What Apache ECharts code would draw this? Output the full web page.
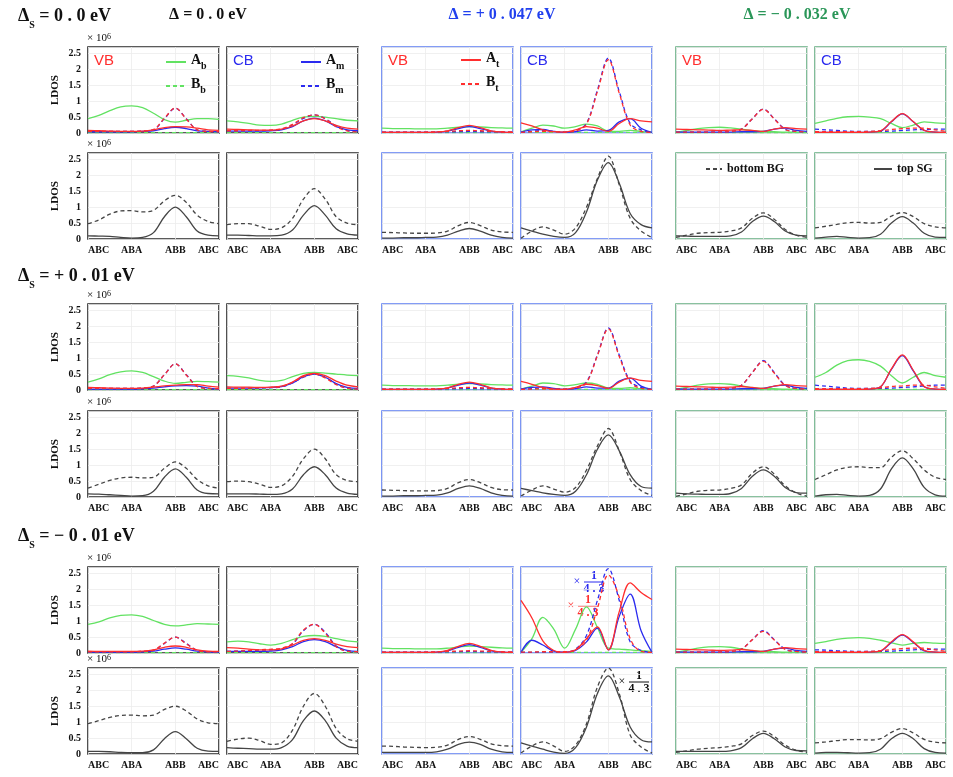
<!DOCTYPE html>
<html>
<head>
<meta charset="utf-8">
<script src="https://cdn.jsdelivr.net/npm/echarts@6/dist/echarts.min.js"></script>
<style>
  html, body { margin: 0; padding: 0; background: #fff; }
  #chart { width: 953px; height: 777px; }
</style>
</head>
<body>
<div id="chart"></div>
<script>
// positions along the stacking path (ABC -> ABA -> ABB -> ABC)
const xs = [0, 0.25, 0.5, 0.75, 1, 1.25, 1.5, 1.75, 2, 2.25, 2.5, 2.75, 3]
const xTickLabels = ['ABC', 'ABA', 'ABB', 'ABC']
const yTicks = [0, 0.5, 1, 1.5, 2, 2.5]

const colTitles = ['Δ = 0 . 0 eV', 'Δ = + 0 . 047 eV', 'Δ = − 0 . 032 eV']
const rowTitles = [' = 0 . 0 eV', ' = + 0 . 01 eV', ' = − 0 . 01 eV']

// LDOS in units of 1e6, six panels per row (VB, CB for each Δ)
// ---- Δs = 0.0 eV ----
const ds0_Ab = [
  [0.45, 0.55, 0.70, 0.82, 0.85, 0.80, 0.62, 0.42, 0.34, 0.40, 0.45, 0.45, 0.43],
  [0.38, 0.35, 0.30, 0.25, 0.24, 0.28, 0.40, 0.50, 0.52, 0.50, 0.45, 0.40, 0.38],
  [0.15, 0.14, 0.14, 0.13, 0.13, 0.13, 0.15, 0.18, 0.20, 0.19, 0.17, 0.16, 0.15],
  [0.03, 0.15, 0.25, 0.22, 0.15, 0.20, 0.28, 0.22, 0.06, 0.05, 0.08, 0.05, 0.02],
  [0.02, 0.08, 0.14, 0.17, 0.18, 0.16, 0.12, 0.07, 0.05, 0.04, 0.03, 0.03, 0.02],
  [0.30, 0.38, 0.46, 0.51, 0.52, 0.50, 0.45, 0.30, 0.17, 0.25, 0.35, 0.32, 0.30]
]
const ds0_Bb = [
  [0.01, 0.01, 0.01, 0.01, 0.01, 0.01, 0.01, 0.01, 0.01, 0.01, 0.01, 0.01, 0.01],
  [0.01, 0.01, 0.01, 0.01, 0.01, 0.01, 0.01, 0.01, 0.01, 0.01, 0.01, 0.01, 0.01],
  [0.01, 0.01, 0.01, 0.01, 0.01, 0.01, 0.01, 0.01, 0.01, 0.01, 0.01, 0.01, 0.01],
  [0.02, 0.02, 0.02, 0.02, 0.02, 0.02, 0.02, 0.02, 0.02, 0.02, 0.02, 0.02, 0.02],
  [0.01, 0.01, 0.01, 0.01, 0.01, 0.01, 0.01, 0.01, 0.01, 0.01, 0.01, 0.01, 0.01],
  [0.02, 0.02, 0.02, 0.02, 0.02, 0.02, 0.02, 0.02, 0.02, 0.02, 0.02, 0.02, 0.02]
]
const ds0_Am = [
  [0.04, 0.04, 0.04, 0.04, 0.04, 0.05, 0.07, 0.14, 0.18, 0.14, 0.07, 0.05, 0.04],
  [0.06, 0.06, 0.06, 0.06, 0.07, 0.10, 0.20, 0.38, 0.47, 0.38, 0.20, 0.10, 0.07],
  [0.02, 0.02, 0.02, 0.02, 0.02, 0.03, 0.06, 0.14, 0.20, 0.14, 0.06, 0.03, 0.02],
  [0.03, 0.10, 0.11, 0.05, 0.02, 0.04, 0.10, 0.06, 0.08, 0.35, 0.45, 0.15, 0.02],
  [0.03, 0.03, 0.03, 0.03, 0.03, 0.03, 0.04, 0.04, 0.05, 0.12, 0.15, 0.08, 0.05],
  [0.02, 0.02, 0.02, 0.02, 0.02, 0.03, 0.06, 0.35, 0.60, 0.35, 0.08, 0.03, 0.02]
]
const ds0_Bm = [
  [0.05, 0.05, 0.05, 0.05, 0.05, 0.06, 0.10, 0.45, 0.78, 0.45, 0.10, 0.05, 0.04],
  [0.07, 0.07, 0.07, 0.07, 0.08, 0.12, 0.25, 0.46, 0.57, 0.45, 0.22, 0.08, 0.03],
  [0.03, 0.03, 0.03, 0.03, 0.03, 0.03, 0.04, 0.04, 0.05, 0.04, 0.04, 0.03, 0.03],
  [0.02, 0.05, 0.08, 0.05, 0.03, 0.08, 0.30, 1.35, 2.35, 1.30, 0.30, 0.10, 0.02],
  [0.03, 0.03, 0.03, 0.03, 0.03, 0.05, 0.12, 0.45, 0.75, 0.45, 0.12, 0.05, 0.03],
  [0.12, 0.10, 0.08, 0.06, 0.05, 0.05, 0.05, 0.06, 0.08, 0.10, 0.11, 0.12, 0.12]
]
const ds0_At = [
  [0.08, 0.07, 0.06, 0.05, 0.05, 0.06, 0.10, 0.17, 0.20, 0.19, 0.15, 0.10, 0.08],
  [0.12, 0.11, 0.10, 0.09, 0.09, 0.12, 0.22, 0.38, 0.45, 0.38, 0.24, 0.15, 0.12],
  [0.02, 0.02, 0.02, 0.02, 0.02, 0.03, 0.07, 0.17, 0.24, 0.17, 0.07, 0.03, 0.02],
  [0.32, 0.22, 0.10, 0.04, 0.03, 0.10, 0.20, 0.15, 0.05, 0.30, 0.45, 0.38, 0.35],
  [0.12, 0.11, 0.10, 0.09, 0.08, 0.09, 0.10, 0.08, 0.05, 0.12, 0.17, 0.14, 0.12],
  [0.02, 0.02, 0.02, 0.02, 0.02, 0.03, 0.07, 0.36, 0.61, 0.36, 0.08, 0.03, 0.02]
]
const ds0_Bt = [
  [0.05, 0.05, 0.05, 0.05, 0.05, 0.06, 0.11, 0.46, 0.78, 0.44, 0.10, 0.05, 0.04],
  [0.07, 0.07, 0.08, 0.08, 0.09, 0.13, 0.27, 0.48, 0.57, 0.44, 0.20, 0.07, 0.03],
  [0.03, 0.03, 0.03, 0.03, 0.03, 0.04, 0.05, 0.07, 0.08, 0.07, 0.05, 0.04, 0.03],
  [0.02, 0.04, 0.05, 0.04, 0.03, 0.06, 0.28, 1.30, 2.30, 1.25, 0.25, 0.05, 0.02],
  [0.03, 0.03, 0.03, 0.03, 0.03, 0.05, 0.12, 0.45, 0.74, 0.44, 0.11, 0.05, 0.03],
  [0.04, 0.04, 0.04, 0.04, 0.04, 0.05, 0.07, 0.11, 0.14, 0.15, 0.15, 0.10, 0.05]
]
const ds0_BG = [
  [0.48, 0.60, 0.78, 0.88, 0.89, 0.85, 0.90, 1.20, 1.37, 1.15, 0.75, 0.55, 0.48],
  [0.45, 0.48, 0.48, 0.40, 0.30, 0.35, 0.65, 1.25, 1.58, 1.25, 0.70, 0.50, 0.45],
  [0.21, 0.20, 0.19, 0.18, 0.18, 0.19, 0.25, 0.42, 0.52, 0.42, 0.28, 0.22, 0.21],
  [0.02, 0.25, 0.38, 0.28, 0.15, 0.35, 1.00, 1.90, 2.60, 1.70, 0.65, 0.25, 0.05],
  [0.05, 0.12, 0.18, 0.20, 0.21, 0.25, 0.35, 0.65, 0.82, 0.62, 0.30, 0.12, 0.05],
  [0.35, 0.40, 0.46, 0.51, 0.52, 0.50, 0.52, 0.72, 0.83, 0.70, 0.48, 0.38, 0.35]
]
const ds0_SG = [
  [0.10, 0.09, 0.08, 0.05, 0.03, 0.05, 0.20, 0.70, 1.00, 0.70, 0.25, 0.12, 0.10],
  [0.12, 0.12, 0.11, 0.10, 0.10, 0.12, 0.28, 0.75, 1.05, 0.75, 0.32, 0.16, 0.12],
  [0.03, 0.03, 0.04, 0.04, 0.05, 0.06, 0.12, 0.25, 0.33, 0.25, 0.12, 0.05, 0.03],
  [0.35, 0.25, 0.15, 0.08, 0.05, 0.20, 0.85, 1.85, 2.40, 1.75, 0.80, 0.45, 0.35],
  [0.10, 0.09, 0.08, 0.08, 0.08, 0.10, 0.22, 0.55, 0.72, 0.55, 0.25, 0.12, 0.10],
  [0.03, 0.06, 0.08, 0.05, 0.03, 0.04, 0.15, 0.50, 0.70, 0.50, 0.18, 0.06, 0.05]
]

// ---- Δs = +0.01 eV ----
const dsP_Ab = [
  [0.25, 0.35, 0.48, 0.57, 0.60, 0.55, 0.42, 0.28, 0.21, 0.24, 0.27, 0.26, 0.25],
  [0.45, 0.43, 0.38, 0.30, 0.27, 0.30, 0.42, 0.52, 0.55, 0.53, 0.50, 0.47, 0.45],
  [0.15, 0.14, 0.14, 0.13, 0.13, 0.13, 0.15, 0.18, 0.20, 0.19, 0.17, 0.16, 0.15],
  [0.03, 0.12, 0.22, 0.20, 0.13, 0.17, 0.22, 0.18, 0.06, 0.05, 0.07, 0.04, 0.02],
  [0.02, 0.08, 0.15, 0.19, 0.20, 0.18, 0.13, 0.07, 0.05, 0.04, 0.03, 0.03, 0.03],
  [0.40, 0.55, 0.78, 0.92, 0.95, 0.90, 0.75, 0.45, 0.22, 0.40, 0.55, 0.45, 0.40]
]
const dsP_Bb = [
  [0.01, 0.01, 0.01, 0.01, 0.01, 0.01, 0.01, 0.01, 0.01, 0.01, 0.01, 0.01, 0.01],
  [0.01, 0.01, 0.01, 0.01, 0.01, 0.01, 0.01, 0.01, 0.01, 0.01, 0.01, 0.01, 0.01],
  [0.01, 0.01, 0.01, 0.01, 0.01, 0.01, 0.01, 0.01, 0.01, 0.01, 0.01, 0.01, 0.01],
  [0.02, 0.02, 0.02, 0.02, 0.02, 0.02, 0.02, 0.02, 0.02, 0.02, 0.02, 0.02, 0.02],
  [0.01, 0.01, 0.01, 0.01, 0.01, 0.01, 0.01, 0.01, 0.01, 0.01, 0.01, 0.01, 0.01],
  [0.02, 0.02, 0.02, 0.02, 0.02, 0.02, 0.02, 0.02, 0.02, 0.02, 0.02, 0.02, 0.02]
]
const dsP_Am = [
  [0.03, 0.03, 0.03, 0.03, 0.03, 0.04, 0.06, 0.10, 0.13, 0.14, 0.12, 0.06, 0.03],
  [0.06, 0.06, 0.06, 0.07, 0.08, 0.11, 0.22, 0.42, 0.50, 0.40, 0.20, 0.08, 0.05],
  [0.02, 0.02, 0.02, 0.02, 0.02, 0.03, 0.06, 0.15, 0.22, 0.15, 0.06, 0.03, 0.02],
  [0.03, 0.08, 0.10, 0.05, 0.02, 0.04, 0.10, 0.06, 0.06, 0.28, 0.37, 0.12, 0.02],
  [0.03, 0.03, 0.03, 0.03, 0.03, 0.03, 0.04, 0.04, 0.05, 0.12, 0.15, 0.08, 0.05],
  [0.02, 0.02, 0.02, 0.02, 0.02, 0.03, 0.10, 0.65, 1.08, 0.60, 0.10, 0.03, 0.02]
]
const dsP_Bm = [
  [0.05, 0.05, 0.05, 0.05, 0.05, 0.06, 0.12, 0.48, 0.82, 0.48, 0.12, 0.05, 0.04],
  [0.05, 0.05, 0.05, 0.06, 0.07, 0.10, 0.22, 0.40, 0.50, 0.40, 0.18, 0.06, 0.03],
  [0.03, 0.03, 0.03, 0.03, 0.03, 0.03, 0.04, 0.04, 0.05, 0.04, 0.04, 0.03, 0.03],
  [0.02, 0.04, 0.06, 0.04, 0.03, 0.07, 0.25, 1.10, 1.95, 1.10, 0.28, 0.08, 0.02],
  [0.03, 0.03, 0.03, 0.03, 0.03, 0.05, 0.15, 0.55, 0.92, 0.55, 0.15, 0.05, 0.03],
  [0.15, 0.12, 0.09, 0.06, 0.05, 0.05, 0.05, 0.06, 0.08, 0.10, 0.13, 0.15, 0.15]
]
const dsP_At = [
  [0.08, 0.07, 0.06, 0.05, 0.05, 0.06, 0.09, 0.13, 0.15, 0.17, 0.17, 0.12, 0.09],
  [0.10, 0.09, 0.09, 0.08, 0.09, 0.12, 0.25, 0.45, 0.52, 0.45, 0.28, 0.15, 0.10],
  [0.02, 0.02, 0.02, 0.02, 0.02, 0.03, 0.07, 0.18, 0.25, 0.18, 0.07, 0.03, 0.02],
  [0.27, 0.18, 0.08, 0.03, 0.02, 0.08, 0.18, 0.14, 0.05, 0.25, 0.37, 0.30, 0.27],
  [0.12, 0.11, 0.10, 0.09, 0.08, 0.09, 0.11, 0.08, 0.05, 0.12, 0.17, 0.14, 0.12],
  [0.02, 0.02, 0.02, 0.02, 0.02, 0.03, 0.10, 0.66, 1.10, 0.62, 0.11, 0.03, 0.02]
]
const dsP_Bt = [
  [0.05, 0.05, 0.05, 0.05, 0.05, 0.06, 0.12, 0.48, 0.82, 0.47, 0.11, 0.05, 0.04],
  [0.05, 0.05, 0.06, 0.07, 0.08, 0.11, 0.24, 0.42, 0.50, 0.38, 0.17, 0.06, 0.03],
  [0.03, 0.03, 0.03, 0.03, 0.03, 0.04, 0.05, 0.07, 0.08, 0.07, 0.05, 0.04, 0.03],
  [0.02, 0.03, 0.04, 0.03, 0.03, 0.06, 0.23, 1.08, 1.92, 1.05, 0.25, 0.05, 0.02],
  [0.03, 0.03, 0.03, 0.03, 0.03, 0.05, 0.15, 0.55, 0.90, 0.53, 0.14, 0.05, 0.03],
  [0.04, 0.04, 0.04, 0.04, 0.04, 0.05, 0.07, 0.11, 0.13, 0.15, 0.15, 0.10, 0.05]
]
const dsP_BG = [
  [0.28, 0.40, 0.52, 0.60, 0.62, 0.60, 0.62, 0.90, 1.10, 0.90, 0.55, 0.35, 0.28],
  [0.48, 0.50, 0.48, 0.40, 0.30, 0.35, 0.65, 1.20, 1.50, 1.20, 0.70, 0.52, 0.48],
  [0.22, 0.21, 0.20, 0.19, 0.19, 0.20, 0.27, 0.45, 0.55, 0.45, 0.30, 0.23, 0.22],
  [0.03, 0.22, 0.35, 0.25, 0.15, 0.30, 0.85, 1.60, 2.15, 1.45, 0.55, 0.20, 0.05],
  [0.02, 0.10, 0.18, 0.21, 0.22, 0.27, 0.38, 0.75, 0.95, 0.72, 0.35, 0.13, 0.02],
  [0.55, 0.70, 0.85, 0.93, 0.95, 0.92, 0.92, 1.25, 1.45, 1.20, 0.85, 0.62, 0.55]
]
const dsP_SG = [
  [0.10, 0.09, 0.07, 0.05, 0.03, 0.04, 0.18, 0.62, 0.88, 0.62, 0.22, 0.11, 0.10],
  [0.10, 0.10, 0.10, 0.09, 0.08, 0.10, 0.25, 0.70, 0.95, 0.70, 0.28, 0.12, 0.08],
  [0.03, 0.03, 0.04, 0.04, 0.05, 0.06, 0.13, 0.27, 0.35, 0.27, 0.13, 0.05, 0.03],
  [0.27, 0.20, 0.13, 0.08, 0.05, 0.18, 0.70, 1.50, 1.95, 1.45, 0.70, 0.33, 0.28],
  [0.12, 0.10, 0.09, 0.08, 0.08, 0.11, 0.27, 0.65, 0.85, 0.65, 0.30, 0.14, 0.12],
  [0.03, 0.07, 0.08, 0.05, 0.03, 0.05, 0.25, 0.88, 1.23, 0.88, 0.30, 0.07, 0.03]
]

// ---- Δs = -0.01 eV ----
const dsM_Ab = [
  [0.90, 0.98, 1.10, 1.18, 1.20, 1.15, 1.02, 0.90, 0.85, 0.88, 0.92, 0.91, 0.90],
  [0.35, 0.37, 0.35, 0.29, 0.25, 0.30, 0.42, 0.52, 0.55, 0.52, 0.45, 0.38, 0.35],
  [0.15, 0.14, 0.14, 0.13, 0.13, 0.13, 0.15, 0.19, 0.22, 0.20, 0.18, 0.16, 0.15],
  [0.02, 0.45, 1.12, 0.75, 0.15, 0.75, 1.45, 0.80, 0.15, 0.12, 0.10, 0.07, 0.05],
  [0.02, 0.08, 0.15, 0.19, 0.20, 0.18, 0.13, 0.07, 0.05, 0.04, 0.03, 0.03, 0.03],
  [0.30, 0.36, 0.43, 0.47, 0.48, 0.46, 0.40, 0.32, 0.25, 0.30, 0.33, 0.31, 0.30]
]
const dsM_Bb = [
  [0.01, 0.01, 0.01, 0.01, 0.01, 0.01, 0.01, 0.01, 0.01, 0.01, 0.01, 0.01, 0.01],
  [0.01, 0.01, 0.01, 0.01, 0.01, 0.01, 0.01, 0.01, 0.01, 0.01, 0.01, 0.01, 0.01],
  [0.01, 0.01, 0.01, 0.01, 0.01, 0.01, 0.01, 0.01, 0.01, 0.01, 0.01, 0.01, 0.01],
  [0.02, 0.02, 0.02, 0.02, 0.02, 0.02, 0.02, 0.02, 0.02, 0.02, 0.02, 0.02, 0.02],
  [0.01, 0.01, 0.01, 0.01, 0.01, 0.01, 0.01, 0.01, 0.01, 0.01, 0.01, 0.01, 0.01],
  [0.02, 0.02, 0.02, 0.02, 0.02, 0.02, 0.02, 0.02, 0.02, 0.02, 0.02, 0.02, 0.02]
]
const dsM_Am = [
  [0.03, 0.03, 0.03, 0.03, 0.03, 0.04, 0.06, 0.12, 0.16, 0.12, 0.06, 0.04, 0.03],
  [0.05, 0.05, 0.05, 0.05, 0.06, 0.10, 0.20, 0.36, 0.42, 0.36, 0.20, 0.08, 0.05],
  [0.02, 0.02, 0.02, 0.02, 0.02, 0.03, 0.07, 0.18, 0.26, 0.18, 0.07, 0.03, 0.02],
  [0.02, 0.40, 0.25, 0.06, 0.03, 0.08, 0.35, 0.78, 0.10, 1.15, 1.85, 0.70, 0.02],
  [0.03, 0.03, 0.03, 0.03, 0.03, 0.03, 0.04, 0.04, 0.05, 0.12, 0.15, 0.08, 0.05],
  [0.02, 0.02, 0.02, 0.02, 0.02, 0.03, 0.06, 0.33, 0.56, 0.33, 0.07, 0.03, 0.02]
]
const dsM_Bm = [
  [0.04, 0.04, 0.04, 0.04, 0.04, 0.05, 0.08, 0.30, 0.50, 0.30, 0.08, 0.04, 0.04],
  [0.05, 0.06, 0.07, 0.09, 0.10, 0.13, 0.28, 0.70, 0.90, 0.65, 0.22, 0.06, 0.04],
  [0.03, 0.03, 0.03, 0.03, 0.03, 0.03, 0.04, 0.04, 0.05, 0.04, 0.04, 0.03, 0.03],
  [0.02, 0.02, 0.03, 0.03, 0.03, 0.12, 0.55, 1.65, 2.65, 1.65, 0.35, 0.08, 0.02],
  [0.03, 0.03, 0.03, 0.03, 0.03, 0.05, 0.12, 0.42, 0.70, 0.42, 0.12, 0.05, 0.03],
  [0.10, 0.09, 0.07, 0.06, 0.05, 0.05, 0.05, 0.06, 0.08, 0.10, 0.11, 0.12, 0.12]
]
const dsM_At = [
  [0.06, 0.05, 0.05, 0.05, 0.05, 0.06, 0.10, 0.18, 0.22, 0.18, 0.10, 0.06, 0.05],
  [0.17, 0.15, 0.12, 0.10, 0.10, 0.13, 0.25, 0.40, 0.45, 0.40, 0.28, 0.20, 0.17],
  [0.02, 0.02, 0.02, 0.02, 0.02, 0.03, 0.08, 0.21, 0.30, 0.21, 0.08, 0.03, 0.02],
  [1.65, 1.10, 0.38, 0.08, 0.02, 0.10, 0.45, 0.82, 0.10, 1.30, 2.20, 1.90, 1.68],
  [0.12, 0.11, 0.10, 0.09, 0.08, 0.09, 0.11, 0.08, 0.05, 0.12, 0.17, 0.14, 0.12],
  [0.02, 0.02, 0.02, 0.02, 0.02, 0.03, 0.07, 0.35, 0.58, 0.35, 0.08, 0.03, 0.02]
]
const dsM_Bt = [
  [0.04, 0.04, 0.04, 0.04, 0.04, 0.05, 0.09, 0.31, 0.50, 0.29, 0.08, 0.04, 0.04],
  [0.05, 0.06, 0.08, 0.10, 0.12, 0.15, 0.30, 0.72, 0.90, 0.62, 0.20, 0.06, 0.04],
  [0.03, 0.03, 0.03, 0.03, 0.03, 0.04, 0.05, 0.06, 0.07, 0.06, 0.05, 0.04, 0.03],
  [0.03, 0.03, 0.04, 0.04, 0.04, 0.10, 0.40, 1.40, 2.45, 1.75, 0.45, 0.05, 0.02],
  [0.03, 0.03, 0.03, 0.03, 0.03, 0.05, 0.12, 0.42, 0.68, 0.41, 0.11, 0.05, 0.03],
  [0.04, 0.04, 0.04, 0.04, 0.04, 0.05, 0.07, 0.11, 0.14, 0.15, 0.15, 0.10, 0.05]
]
const dsM_BG = [
  [0.95, 1.05, 1.15, 1.21, 1.22, 1.20, 1.22, 1.40, 1.50, 1.35, 1.10, 0.98, 0.95],
  [0.40, 0.47, 0.50, 0.42, 0.30, 0.35, 0.75, 1.50, 1.90, 1.50, 0.80, 0.48, 0.40],
  [0.25, 0.24, 0.22, 0.21, 0.20, 0.21, 0.28, 0.46, 0.55, 0.46, 0.32, 0.26, 0.25],
  [0.03, 0.25, 0.38, 0.25, 0.08, 0.28, 0.95, 2.10, 2.70, 1.90, 0.60, 0.22, 0.03],
  [0.05, 0.10, 0.15, 0.18, 0.20, 0.24, 0.32, 0.58, 0.72, 0.55, 0.28, 0.12, 0.05],
  [0.35, 0.38, 0.42, 0.45, 0.45, 0.44, 0.48, 0.68, 0.80, 0.66, 0.46, 0.37, 0.35]
]
const dsM_SG = [
  [0.08, 0.08, 0.07, 0.05, 0.04, 0.04, 0.13, 0.48, 0.70, 0.48, 0.18, 0.09, 0.08],
  [0.20, 0.18, 0.17, 0.15, 0.15, 0.20, 0.45, 1.05, 1.35, 1.05, 0.50, 0.25, 0.20],
  [0.05, 0.05, 0.05, 0.05, 0.05, 0.07, 0.15, 0.30, 0.37, 0.30, 0.15, 0.07, 0.05],
  [0.35, 0.25, 0.15, 0.06, 0.02, 0.20, 0.85, 1.90, 2.45, 1.80, 0.85, 0.45, 0.38],
  [0.08, 0.08, 0.08, 0.08, 0.08, 0.10, 0.20, 0.48, 0.65, 0.48, 0.22, 0.11, 0.10],
  [0.03, 0.05, 0.05, 0.04, 0.03, 0.04, 0.15, 0.48, 0.65, 0.48, 0.17, 0.05, 0.03]
]

const rowSets = [
  { Ab: ds0_Ab, Bb: ds0_Bb, Am: ds0_Am, Bm: ds0_Bm, At: ds0_At, Bt: ds0_Bt, BG: ds0_BG, SG: ds0_SG },
  { Ab: dsP_Ab, Bb: dsP_Bb, Am: dsP_Am, Bm: dsP_Bm, At: dsP_At, Bt: dsP_Bt, BG: dsP_BG, SG: dsP_SG },
  { Ab: dsM_Ab, Bb: dsM_Bb, Am: dsM_Am, Bm: dsM_Bm, At: dsM_At, Bt: dsM_Bt, BG: dsM_BG, SG: dsM_SG }
]

const GREEN = '#62e262'
const BLUE = '#2b2bef'
const RED = '#ff2e2e'
const GRAY = '#454545'
const SERIF = 'Liberation Serif'

const topCurves = [
  { key: 'Ab', name: 'A_b', color: GREEN, dash: false },
  { key: 'Bb', name: 'B_b', color: GREEN, dash: true },
  { key: 'Am', name: 'A_m', color: BLUE, dash: false },
  { key: 'Bm', name: 'B_m', color: BLUE, dash: true },
  { key: 'At', name: 'A_t', color: RED, dash: false },
  { key: 'Bt', name: 'B_t', color: RED, dash: true }
]
const bottomCurves = [
  { key: 'BG', name: 'bottom BG', color: GRAY, dash: true },
  { key: 'SG', name: 'top SG', color: GRAY, dash: false }
]

// layout
const colLeft = [88, 227, 382, 521, 676, 815]
const panelW = 131
const rowTop = [47, 153, 304, 411, 567, 668]
const panelH = 86
const frameColors = ['#262626', '#262626', '#5b7cf2', '#5b7cf2', '#63ad80', '#63ad80']

const grids = []
const xAxes = []
const yAxes = []
const series = []
const graphics = []

for (let r = 0; r < 3; r++) {
  for (let sub = 0; sub < 2; sub++) {
    const top = rowTop[r * 2 + sub]
    for (let c = 0; c < 6; c++) {
      const gi = grids.length
      grids.push({
        left: colLeft[c], top: top, width: panelW, height: panelH,
        show: true, borderColor: frameColors[c], borderWidth: 1.6,
        backgroundColor: 'transparent'
      })
      xAxes.push({
        gridIndex: gi, type: 'value', min: 0, max: 3, interval: 1,
        axisLine: { show: false }, axisTick: { show: false },
        splitLine: { show: true, lineStyle: { color: '#ececec', width: 0.8 } },
        axisLabel: {
          show: sub === 1,
          formatter: (v) => xTickLabels[Math.round(v)] || '',
          alignMinLabel: 'left', alignMaxLabel: 'right',
          fontFamily: SERIF, fontWeight: 'bold', fontSize: 10, color: '#111', margin: 6
        }
      })
      yAxes.push({
        gridIndex: gi, type: 'value', min: 0, max: 2.7, interval: 0.5,
        axisLine: { show: false }, axisTick: { show: false },
        splitLine: { show: true, lineStyle: { color: '#ececec', width: 0.8 } },
        axisLabel: {
          show: c === 0, showMaxLabel: false,
          formatter: (v) => (yTicks.indexOf(v) >= 0 ? String(v) : ''),
          fontFamily: SERIF, fontWeight: 'bold', fontSize: 10, color: '#111', margin: 7
        }
      })
      const curves = sub === 0 ? topCurves : bottomCurves
      curves.forEach((cv, k) => {
        const vals = rowSets[r][cv.key][c]
        series.push({
          type: 'line', name: cv.name, xAxisIndex: gi, yAxisIndex: gi,
          data: xs.map((x, i) => [x, vals[i]]),
          smooth: 0.35, symbol: 'none', showSymbol: false, silent: true, z: 2 + k,
          lineStyle: { color: cv.color, width: 1.3, type: cv.dash ? [4, 3] : 'solid' },
          itemStyle: { color: cv.color }
        })
      })

      // y-axis decorations for the first column
      if (c === 0) {
        graphics.push({
          type: 'text', left: colLeft[0] - 1, top: top - 14,
          style: {
            text: '{a|× 10}{b|6}',
            rich: {
              a: { fontFamily: SERIF, fontSize: 11, fill: '#111', verticalAlign: 'bottom' },
              b: { fontFamily: SERIF, fontSize: 8, fill: '#111', verticalAlign: 'top' }
            }
          }
        })
        graphics.push({
          type: 'text', x: 55, y: top + panelH / 2, rotation: Math.PI / 2,
          style: {
            text: 'LDOS', fontFamily: SERIF, fontWeight: 'bold', fontSize: 11, fill: '#111',
            align: 'center', verticalAlign: 'middle'
          }
        })
      }
    }
  }
}

// column headers
const headerColors = ['#111111', '#2140ee', '#2a9658']
const headerX = [208, 502, 797]
colTitles.forEach((t, i) => {
  graphics.push({
    type: 'text', x: headerX[i], y: 15,
    style: {
      text: t, fontFamily: SERIF, fontWeight: 'bold', fontSize: 16, fill: headerColors[i],
      align: 'center', verticalAlign: 'middle'
    }
  })
})

// Δs row labels
const rowLabelY = [18, 278, 538]
rowTitles.forEach((t, i) => {
  graphics.push({
    type: 'text', left: 18, top: rowLabelY[i] - 11,
    style: {
      text: '{d|Δ}{s|S}{d|' + t + '}',
      rich: {
        d: { fontFamily: SERIF, fontWeight: 'bold', fontSize: 18, fill: '#111', verticalAlign: 'top', lineHeight: 23 },
        s: { fontFamily: SERIF, fontWeight: 'bold', fontSize: 10, fill: '#111', verticalAlign: 'bottom', lineHeight: 10 }
      }
    }
  })
})

// VB / CB tags
const tagText = ['VB', 'CB', 'VB', 'CB', 'VB', 'CB']
tagText.forEach((t, c) => {
  graphics.push({
    type: 'text', left: colLeft[c] + 6, top: rowTop[0] + 6,
    style: {
      text: t, fontFamily: 'Liberation Sans', fontSize: 15,
      fill: t === 'VB' ? RED : BLUE
    }
  })
})

// ×1/4.3 scaling notes (fraction drawn as numerator / bar / denominator)
function fractionNote(x, y, color) {
  const font = { fontFamily: SERIF, fontWeight: 'bold', fontSize: 12, fill: color, align: 'center', verticalAlign: 'middle' }
  graphics.push({
    type: 'group', x: x, y: y,
    children: [
      { type: 'text', x: 0, y: 0, style: Object.assign({}, font, { text: '×', fontWeight: 'normal' }) },
      { type: 'text', x: 17, y: -6, style: Object.assign({}, font, { text: '1' }) },
      { type: 'line', shape: { x1: 7, y1: 0, x2: 27, y2: 0 }, style: { stroke: color, lineWidth: 1 } },
      { type: 'text', x: 17, y: 7, style: Object.assign({}, font, { text: '4 . 3' }) }
    ]
  })
}
fractionNote(577, 582, BLUE)
fractionNote(571, 606, RED)
fractionNote(622, 682, '#111')

const richLegend = {
  m: { fontFamily: SERIF, fontWeight: 'bold', fontSize: 14, color: '#111', verticalAlign: 'top', lineHeight: 18 },
  s: { fontFamily: SERIF, fontWeight: 'bold', fontSize: 10, color: '#111', verticalAlign: 'bottom', lineHeight: 10 },
  t: { fontFamily: SERIF, fontWeight: 'bold', fontSize: 12, color: '#111' }
}
const legendFormatter = (name) => {
  if (name.indexOf('_') > 0) {
    const parts = name.split('_')
    return '{m|' + parts[0] + '}{s|' + parts[1] + '}'
  }
  return '{t|' + name + '}'
}
const legendBase = {
  orient: 'vertical', selectedMode: false, itemWidth: 20, itemHeight: 10, itemGap: 6,
  itemStyle: { opacity: 0 },
  formatter: legendFormatter, textStyle: { rich: richLegend }, padding: 0
}
const legends = [
  Object.assign({}, legendBase, { left: 165, top: 53, data: ['A_b', 'B_b'] }),
  Object.assign({}, legendBase, { left: 300, top: 53, data: ['A_m', 'B_m'] }),
  Object.assign({}, legendBase, { left: 460, top: 51, data: ['A_t', 'B_t'] }),
  Object.assign({}, legendBase, { left: 705, top: 163, itemWidth: 16, data: ['bottom BG'] }),
  Object.assign({}, legendBase, { left: 873, top: 163, itemWidth: 18, data: ['top SG'] })
]

const chart = echarts.init(document.getElementById('chart'))
chart.setOption({
  backgroundColor: '#fff',
  animation: false,
  legend: legends,
  grid: grids,
  xAxis: xAxes,
  yAxis: yAxes,
  series: series,
  graphic: graphics
})
</script>
</body>
</html>
